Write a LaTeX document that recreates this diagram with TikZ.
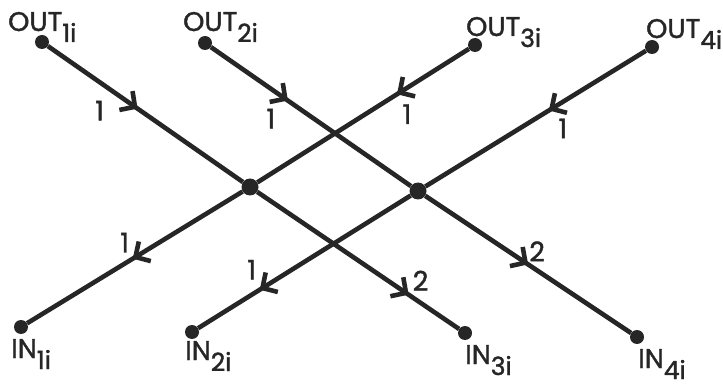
\documentclass[tikz,border=0pt]{standalone}
\usepackage{fontspec}
\setmainfont{Poppins}[UprightFeatures={FakeBold=1.5}]
\usetikzlibrary{arrows.meta,decorations.markings}
\newcommand\idx[1]{\raisebox{-11pt}{\fontsize{25}{28}\selectfont #1}}

\begin{document}
\begin{tikzpicture}[x=1pt,y=-1pt,
  every node/.style={font=\fontsize{27}{30}\selectfont,text=black!85},
  port/.style={circle,fill=black!85,inner sep=0pt,minimum size=14pt},
  hub/.style={circle,fill=black!85,inner sep=0pt,minimum size=17pt},
  wire/.style={line width=4.6pt,draw=black!85,postaction={decorate},
    decoration={markings,mark=at position #1 with {\arrow{Straight Barb[length=11pt,width=23pt]}}}},
  tag/.style={inner sep=0pt,anchor=base west},
  weight/.style={inner sep=0pt}]
  \useasboundingbox (0,0) rectangle (723,390);

  % outputs
  \node[port] (o1) at (42,42) {};
  \node[port] (o2) at (205,43) {};
  \node[port] (o3) at (475,45) {};
  \node[port] (o4) at (652,47) {};
  \node[tag] (to1) at (8,31) {OUT\idx{1i}};
  \node[tag] (to2) at (183,31) {OUT\idx{2i}};
  \node[tag] (to3) at (466,36) {OUT\idx{3i}};
  \node[tag] (to4) at (646,38) {OUT\idx{4i}};

  % crossings
  \node[hub] (c1) at (250,187) {};
  \node[hub] (c2) at (418,191) {};

  % inputs
  \node[port] (i1) at (21,327) {};
  \node[port] (i2) at (192,332) {};
  \node[port] (i3) at (465,333) {};
  \node[port] (i4) at (637,337) {};
  \node[tag] (ti1) at (11,358) {IN\idx{1i}};
  \node[tag] (ti2) at (185,360) {IN\idx{2i}};
  \node[tag] (ti3) at (465,364) {IN\idx{3i}};
  \node[tag] (ti4) at (638,368) {IN\idx{4i}};

  % upper half
  \draw[wire=0.46] (o1) -- node[weight,pos=0.46,xshift=-38pt,yshift=-2pt]{1} (c1);
  \draw[wire=0.385] (o2) -- node[weight,pos=0.385,xshift=-17pt,yshift=-18pt]{1} (c2);
  \draw[wire=0.34] (o3) -- node[weight,pos=0.34,xshift=10pt,yshift=-20pt]{1} (c1);
  \draw[wire=0.44] (o4) -- node[weight,pos=0.44,xshift=14pt,yshift=-18pt]{1} (c2);

  % lower half
  \draw[wire=0.51] (c1) -- node[weight,pos=0.51,xshift=-8pt,yshift=16pt]{1} (i1);
  \draw[wire=0.71] (c2) -- node[weight,pos=0.71,xshift=-8pt,yshift=20pt]{1} (i2);
  \draw[wire=0.75] (c1) -- node[weight,pos=0.75,xshift=12pt,yshift=14pt]{2} (i3);
  \draw[wire=0.5] (c2) -- node[weight,pos=0.5,xshift=9pt,yshift=13pt]{2} (i4);
\end{tikzpicture}
\end{document}
